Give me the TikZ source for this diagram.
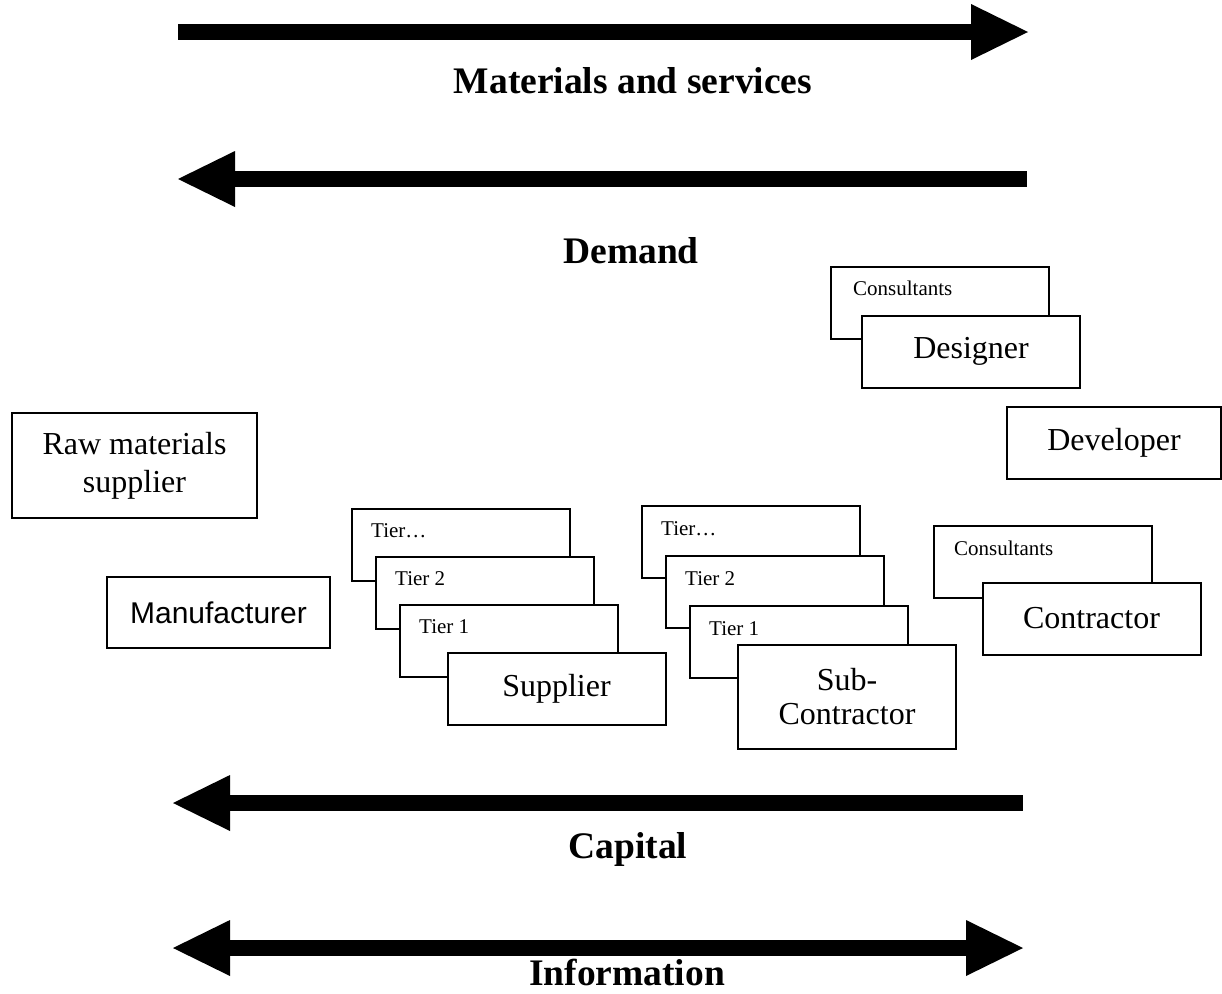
\documentclass[tikz,border=0pt]{standalone}
\usepackage{fontspec}
\setmainfont{Liberation Serif}
\setsansfont{Liberation Sans}
\usepackage{tikz}
\usetikzlibrary{
    positioning,   % Relative positioning
    arrows.meta    % Modern arrow tips
}
\newcommand{\unitfont}{\fontsize{32}{34}\selectfont}
\newcommand{\tagfont}{\fontsize{21}{24}\selectfont}
\newcommand{\flowfont}{\fontsize{37.5}{40}\selectfont\bfseries}

\tikzset{unit/.style={
    draw, line width=2pt, fill=white, inner sep=0pt, align=center,
    minimum width=218pt, minimum height=72pt, font=\unitfont
}}
\tikzset{tag/.style={anchor=base west, inner sep=0pt, font=\tagfont}}
\tikzset{flow/.style={
    line width=16pt, >={Triangle[length=57pt, width=56pt, line width=0pt]}
}}
\tikzset{flowlabel/.style={anchor=base, inner sep=0pt, font=\flowfont}}

\begin{document}
\begin{tikzpicture}[x=1pt, y=-1pt]
    \useasboundingbox (0,0) rectangle (1222,993);

    % flows along the chain
    \coordinate (ms-w) at (178,32);
    \coordinate (ms-e) at (1028,32);
    \draw[flow, ->] (ms-w) -- (ms-e);
    \node[flowlabel] (ms) at (633,93) {Materials and services};

    \coordinate (dm-w) at (178,179);
    \coordinate (dm-e) at (1027,179);
    \draw[flow, <-] (dm-w) -- (dm-e);
    \node[flowlabel] (dm) at (631,263) {Demand};

    \coordinate (cp-w) at (173,803);
    \coordinate (cp-e) at (1023,803);
    \draw[flow, <-] (cp-w) -- (cp-e);
    \node[flowlabel] (cp) at (628,858) {Capital};

    \coordinate (in-w) at (173,948);
    \coordinate (in-e) at (1023,948);
    \draw[flow, <->] (in-w) -- (in-e);
    \node[flowlabel] (in) at (627,985) {Information};

    % upstream
    \node[unit, minimum width=245pt, minimum height=105pt,
          font=\fontsize{32}{38}\selectfont] (raw) at (134.5,465.5) {Raw materials\\supplier};
    \node[unit, minimum width=223pt, minimum height=71pt,
          font=\sffamily\fontsize{30}{34}\selectfont] (mfr) at (218.5,612.5) {Manufacturer};

    % supplier tiers
    \foreach \lab [count=\i from 0] in {Tier\ldots, Tier 2, Tier 1} {
        \node[unit] (sup\i) at ({461+24*\i},{544.5+48*\i}) {};
        \node[tag] (sup\i-t) at ([shift={(20,30)}]sup\i.north west) {\lab};
    }
    \node[unit] (sup) at (556.5,688.5) {Supplier};

    % sub-contractor tiers
    \foreach \lab [count=\i from 0] in {Tier\ldots, Tier 2, Tier 1} {
        \node[unit] (sub\i) at ({751+24*\i},{542+50*\i}) {};
        \node[tag] (sub\i-t) at ([shift={(20,30)}]sub\i.north west) {\lab};
    }
    \node[unit, minimum height=104pt] (subc) at (847,697) {Sub-\\Contractor};

    % design side
    \node[unit] (dcon) at (940,302.5) {};
    \node[tag] (dcon-t) at ([shift={(23,30)}]dcon.north west) {Consultants};
    \node[unit] (des) at (971,351.5) {Designer};

    \node[unit, minimum width=214pt] (dev) at (1114,442.5) {Developer};

    % contractor side
    \node[unit] (ccon) at (1043,562) {};
    \node[tag] (ccon-t) at ([shift={(21,30)}]ccon.north west) {Consultants};
    \node[unit] (con) at (1091.5,618.5) {Contractor};
\end{tikzpicture}
\end{document}
